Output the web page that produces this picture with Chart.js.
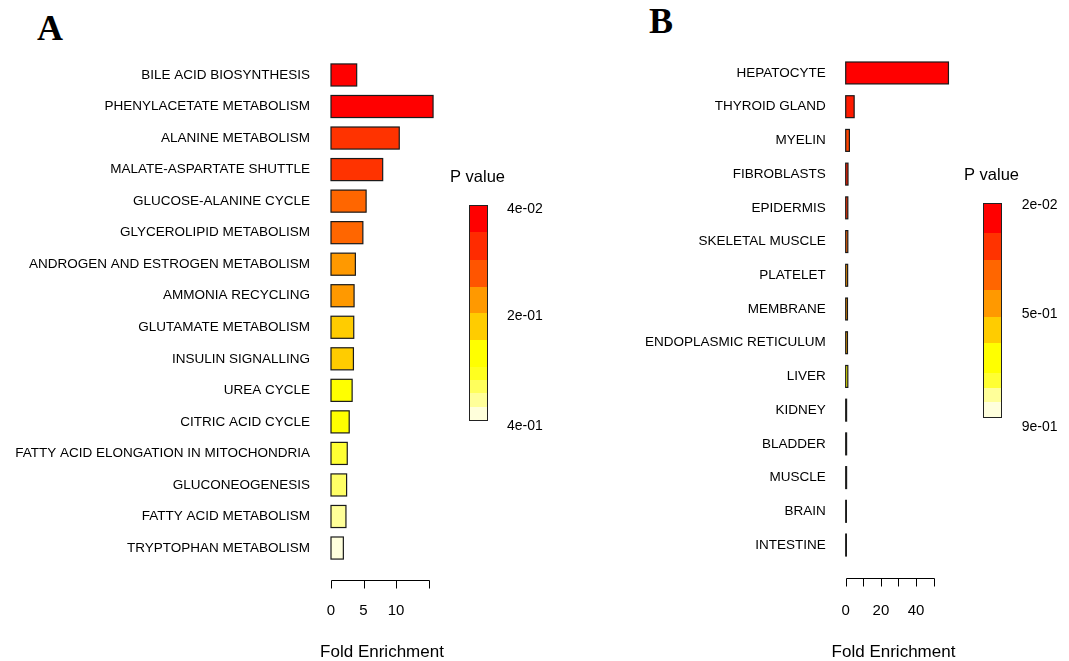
<!DOCTYPE html>
<html>
<head>
<meta charset="utf-8">
<script src="https://cdn.jsdelivr.net/npm/chart.js@4.4.1/dist/chart.umd.min.js"></script>
<style>
  body { margin: 0; background: #fff; width: 1069px; height: 661px; overflow: hidden; position: relative; }
  canvas { position: absolute; top: 0; }
  #chartA { left: 0; }
  #chartB { left: 560px; }
  .tag { position: absolute; font: bold 36px "Liberation Serif", "Times New Roman", serif; line-height: 36px; color: #000; }
</style>
</head>
<body>
<div class="tag" style="left:37px;top:10px">A</div>
<div class="tag" style="left:649px;top:3px">B</div>
<canvas id="chartA" width="560" height="661"></canvas>
<canvas id="chartB" width="509" height="661"></canvas>
<script>
// panel A - pathways
const pathways = ['BILE ACID BIOSYNTHESIS', 'PHENYLACETATE METABOLISM', 'ALANINE METABOLISM',
  'MALATE-ASPARTATE SHUTTLE', 'GLUCOSE-ALANINE CYCLE', 'GLYCEROLIPID METABOLISM',
  'ANDROGEN AND ESTROGEN METABOLISM', 'AMMONIA RECYCLING', 'GLUTAMATE METABOLISM',
  'INSULIN SIGNALLING', 'UREA CYCLE', 'CITRIC ACID CYCLE', 'FATTY ACID ELONGATION IN MITOCHONDRIA',
  'GLUCONEOGENESIS', 'FATTY ACID METABOLISM', 'TRYPTOPHAN METABOLISM'];
const pathwayFold = [3.95, 15.7, 10.5, 7.95, 5.4, 4.9, 3.75, 3.55, 3.5, 3.45, 3.25, 2.8, 2.5, 2.4, 2.3, 1.9];
const pathwayColors = ['#FF0000', '#FF0000', '#FF3300', '#FF3300', '#FF6600', '#FF6600', '#FF9900', '#FF9900',
  '#FFCC00', '#FFCC00', '#FFFF00', '#FFFF00', '#FFFF33', '#FFFF66', '#FFFF99', '#FFFFDD'];
const keyColorsA = ['#FF0000', '#FF2B00', '#FF5500', '#FF9900', '#FFCC00', '#FFFF00', '#FFFF1F', '#FFFF5C', '#FFFF99', '#FFFFDB'];
const keyStepsA = [27, 28, 27, 26, 27, 27, 13, 13, 14, 13];
const keyLabelsA = ['4e-02', '2e-01', '4e-01'];

// panel B - tissues
const tissues = ['HEPATOCYTE', 'THYROID GLAND', 'MYELIN', 'FIBROBLASTS', 'EPIDERMIS', 'SKELETAL MUSCLE',
  'PLATELET', 'MEMBRANE', 'ENDOPLASMIC RETICULUM', 'LIVER', 'KIDNEY', 'BLADDER', 'MUSCLE', 'BRAIN', 'INTESTINE'];
const tissueFold = [58.4, 4.8, 2.1, 1.3, 1.2, 1.2, 1.1, 1.0, 1.0, 1.2, 0.5, 0.5, 0.5, 0.4, 0.4];
const tissueColors = ['#FF0000', '#FF1A00', '#FF4400', '#FF2000', '#FF3300', '#FF6600', '#FF9900', '#FF9900',
  '#FFAA00', '#FFFF00', '#FFFF33', '#FFFF66', '#FFFF99', '#FFFFCC', '#FFFFDD'];
const keyColorsB = ['#FF0000', '#FF3300', '#FF6600', '#FF9900', '#FFCC00', '#FFFF00', '#FFFF33', '#FFFF99', '#FFFFDD'];
const keyStepsB = [30, 27, 30, 27, 26, 30, 15, 14, 15];
const keyLabelsB = ['2e-02', '5e-01', '9e-01'];

const FONT = '"Liberation Sans", Arial, sans-serif';

// R style: outlined bars, axis line only over the ticks, axis title, colour key
const rStyle = {
  id: 'rStyle',
  afterDatasetsDraw(chart) {
    const ctx = chart.ctx;
    ctx.save();
    ctx.strokeStyle = '#1a1a1a';
    ctx.lineWidth = 1.2;
    chart.getDatasetMeta(0).data.forEach(el => {
      const p = el.getProps(['x', 'y', 'base', 'height'], true);
      const l = Math.min(p.base, p.x), r = Math.max(p.base, p.x);
      ctx.strokeRect(l, p.y - p.height / 2, r - l, p.height);
    });
    ctx.restore();
  },
  afterDraw(chart, args, o) {
    const ctx = chart.ctx, x = chart.scales.x, area = chart.chartArea;
    const vals = x.ticks.map(t => t.value);
    const y0 = Math.round(area.bottom + o.axisGap) + 0.5;
    ctx.save();
    ctx.strokeStyle = '#000';
    ctx.lineWidth = 1;
    ctx.beginPath();
    ctx.moveTo(Math.round(x.getPixelForValue(vals[0])) + 0.5, y0);
    ctx.lineTo(Math.round(x.getPixelForValue(vals[vals.length - 1])) + 0.5, y0);
    vals.forEach(v => {
      const px = Math.round(x.getPixelForValue(v)) + 0.5;
      ctx.moveTo(px, y0);
      ctx.lineTo(px, y0 + 8);
    });
    ctx.stroke();

    ctx.fillStyle = '#000';
    ctx.textAlign = 'center';
    ctx.textBaseline = 'middle';
    ctx.font = '17px ' + FONT;
    ctx.fillText('Fold Enrichment', o.titleX, o.titleY);

    const k = o.key;
    const total = k.steps.reduce((a, b) => a + b, 0);
    let yy = k.top;
    k.colors.forEach((c, i) => {
      const h = k.steps[i] / total * k.height;
      ctx.fillStyle = c;
      ctx.fillRect(k.left, yy, k.width, h + 0.5);
      yy += h;
    });
    ctx.strokeStyle = '#222';
    ctx.strokeRect(k.left + 0.5, k.top + 0.5, k.width, k.height);
    ctx.fillStyle = '#000';
    ctx.textAlign = 'left';
    ctx.font = '16.5px ' + FONT;
    ctx.fillText('P value', k.titleX, k.titleY);
    ctx.font = '14px ' + FONT;
    k.labels.forEach((l, i) => ctx.fillText(l, k.labelX, k.labelYs[i]));
    ctx.restore();
  }
};

function makeChart(id, labels, values, colors, opt) {
  return new Chart(document.getElementById(id), {
    type: 'bar',
    data: {
      labels: labels,
      datasets: [{
        data: values,
        backgroundColor: colors,
        borderWidth: 0,
        barPercentage: opt.barPct,
        categoryPercentage: 1
      }]
    },
    options: {
      indexAxis: 'y',
      responsive: false,
      animation: false,
      devicePixelRatio: 1,
      layout: { padding: { top: opt.top, right: opt.right, left: 0, bottom: 0 } },
      plugins: {
        legend: { display: false },
        tooltip: { enabled: false },
        rStyle: opt.rStyle
      },
      scales: {
        y: {
          grid: { display: false, drawTicks: false },
          border: { display: false },
          ticks: { autoSkip: false, padding: opt.labelPad, color: '#000', font: { family: FONT, size: 13.5 } },
          afterFit: s => { s.width = opt.left; }
        },
        x: {
          min: 0,
          max: opt.max,
          grid: { display: false, drawTicks: false },
          border: { display: false },
          ticks: {
            stepSize: opt.step, includeBounds: false, autoSkip: false, maxRotation: 0,
            padding: opt.tickPad, color: '#000', font: { family: FONT, size: 15 },
            callback: opt.tickLabel
          },
          afterFit: s => { s.height = opt.bottom; }
        }
      }
    },
    plugins: [rStyle]
  });
}

makeChart('chartA', pathways, pathwayFold, pathwayColors, {
  barPct: 0.7, top: 59.2, right: 125, left: 331, bottom: 97.2, labelPad: 21,
  max: 16, step: 5, tickPad: 38,
  tickLabel: v => (v === 15 ? '' : v),
  rStyle: {
    axisGap: 16, titleX: 382, titleY: 652.5,
    key: { left: 469, top: 205, width: 18, height: 215, colors: keyColorsA, steps: keyStepsA,
      titleX: 450, titleY: 177, labels: keyLabelsA, labelX: 507, labelYs: [209, 316, 426] }
  }
});

makeChart('chartB', tissues, tissueFold, tissueColors, {
  barPct: 0.65, top: 56.1, right: 119.5, left: 285.7, bottom: 99.1, labelPad: 20,
  max: 59, step: 10, tickPad: 40,
  tickLabel: v => (v % 20 === 0 ? v : ''),
  rStyle: {
    axisGap: 16, titleX: 333.5, titleY: 652.5,
    key: { left: 423, top: 203, width: 18, height: 214, colors: keyColorsB, steps: keyStepsB,
      titleX: 404, titleY: 175, labels: keyLabelsB, labelX: 461.7, labelYs: [205, 314, 427] }
  }
});
</script>
</body>
</html>
